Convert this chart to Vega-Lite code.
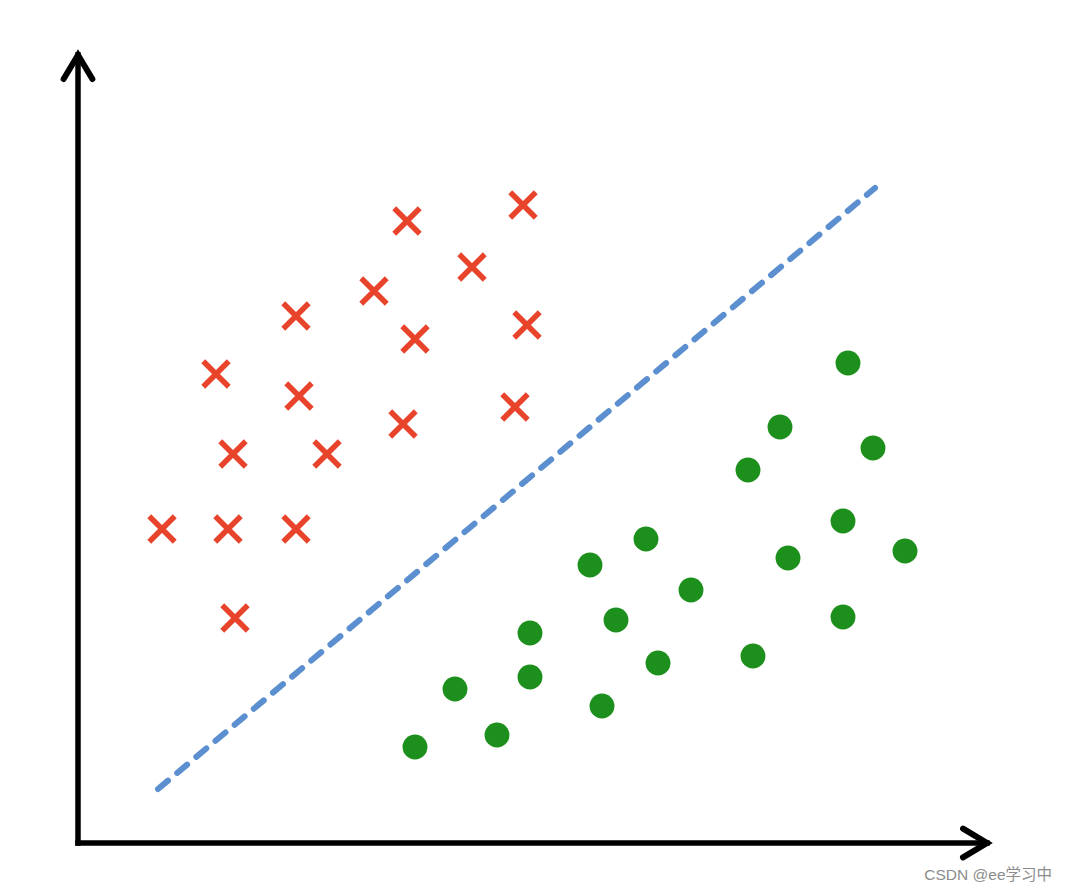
{
  "$schema": "https://vega.github.io/schema/vega-lite/v6.json",
  "width": 1068,
  "height": 893,
  "autosize": {"type": "fit", "contains": "padding"},
  "padding": 0,
  "background": "white",
  "config": {"view": {"stroke": null}},
  "datasets": {
    "crosses": [
      {"x": 329, "y": 622}, {"x": 445, "y": 638}, {"x": 394, "y": 576},
      {"x": 296, "y": 552}, {"x": 218, "y": 527}, {"x": 337, "y": 504},
      {"x": 449, "y": 518}, {"x": 138, "y": 469}, {"x": 221, "y": 447},
      {"x": 325, "y": 419}, {"x": 437, "y": 436}, {"x": 155, "y": 389},
      {"x": 249, "y": 389}, {"x": 84, "y": 314}, {"x": 150, "y": 314},
      {"x": 218, "y": 314}, {"x": 157, "y": 225}
    ],
    "dots": [
      {"x": 770, "y": 480}, {"x": 702, "y": 416}, {"x": 795, "y": 395},
      {"x": 670, "y": 373}, {"x": 765, "y": 322}, {"x": 827, "y": 292},
      {"x": 568, "y": 304}, {"x": 512, "y": 278}, {"x": 710, "y": 285},
      {"x": 613, "y": 253}, {"x": 538, "y": 223}, {"x": 765, "y": 226},
      {"x": 452, "y": 210}, {"x": 452, "y": 166}, {"x": 580, "y": 180},
      {"x": 675, "y": 187}, {"x": 377, "y": 154}, {"x": 524, "y": 137},
      {"x": 419, "y": 108}, {"x": 337, "y": 96}
    ],
    "boundary": [{"x1": 80, "y1": 54, "x2": 797, "y2": 655}],
    "axes": [
      {"x1": 0, "y1": 0, "x2": 0, "y2": 788},
      {"x1": 0, "y1": 0, "x2": 909, "y2": 0}
    ],
    "arrows": [
      {"x": 0, "y": 788, "angle": 0},
      {"x": 909, "y": 0, "angle": 90}
    ],
    "note": [{"x": 974, "y": -37, "text": "CSDN @ee学习中"}]
  },
  "layer": [
    {
      "data": {"name": "axes"},
      "mark": {"type": "rule", "color": "#000000", "strokeWidth": 5.5, "strokeCap": "square"},
      "encoding": {
        "x": {"field": "x1", "type": "quantitative", "scale": {"domain": [-78, 990], "nice": false, "zero": false}, "axis": null},
        "y": {"field": "y1", "type": "quantitative", "scale": {"domain": [-50, 843], "nice": false, "zero": false}, "axis": null},
        "x2": {"field": "x2"},
        "y2": {"field": "y2"}
      }
    },
    {
      "data": {"name": "arrows"},
      "mark": {"type": "point", "shape": "M-0.6,1L0,0L0.6,1", "filled": false, "stroke": "#000000", "strokeWidth": 6, "strokeJoin": "miter", "strokeCap": "round", "size": 2300, "opacity": 1},
      "encoding": {
        "x": {"field": "x", "type": "quantitative", "axis": null},
        "y": {"field": "y", "type": "quantitative", "axis": null},
        "angle": {"field": "angle", "type": "quantitative", "scale": null}
      }
    },
    {
      "data": {"name": "boundary"},
      "mark": {"type": "rule", "color": "#5b8fcf", "strokeWidth": 6, "strokeDash": [13, 12], "strokeCap": "round"},
      "encoding": {
        "x": {"field": "x1", "type": "quantitative", "axis": null},
        "y": {"field": "y1", "type": "quantitative", "axis": null},
        "x2": {"field": "x2"},
        "y2": {"field": "y2"}
      }
    },
    {
      "data": {"name": "crosses"},
      "mark": {"type": "point", "shape": "M-1,-1L1,1M-1,1L1,-1", "filled": false, "stroke": "#e8432b", "strokeWidth": 5.5, "size": 650, "opacity": 1},
      "encoding": {
        "x": {"field": "x", "type": "quantitative", "axis": null},
        "y": {"field": "y", "type": "quantitative", "axis": null}
      }
    },
    {
      "data": {"name": "dots"},
      "mark": {"type": "point", "shape": "circle", "filled": true, "color": "#1c8f1c", "size": 620, "opacity": 1},
      "encoding": {
        "x": {"field": "x", "type": "quantitative", "axis": null},
        "y": {"field": "y", "type": "quantitative", "axis": null}
      }
    },
    {
      "data": {"name": "note"},
      "mark": {"type": "text", "align": "right", "baseline": "alphabetic", "font": "Liberation Sans, Noto Sans CJK SC", "fontSize": 15.5, "color": "#8c8c8c"},
      "encoding": {
        "x": {"field": "x", "type": "quantitative", "axis": null},
        "y": {"field": "y", "type": "quantitative", "axis": null},
        "text": {"field": "text"}
      }
    }
  ]
}
